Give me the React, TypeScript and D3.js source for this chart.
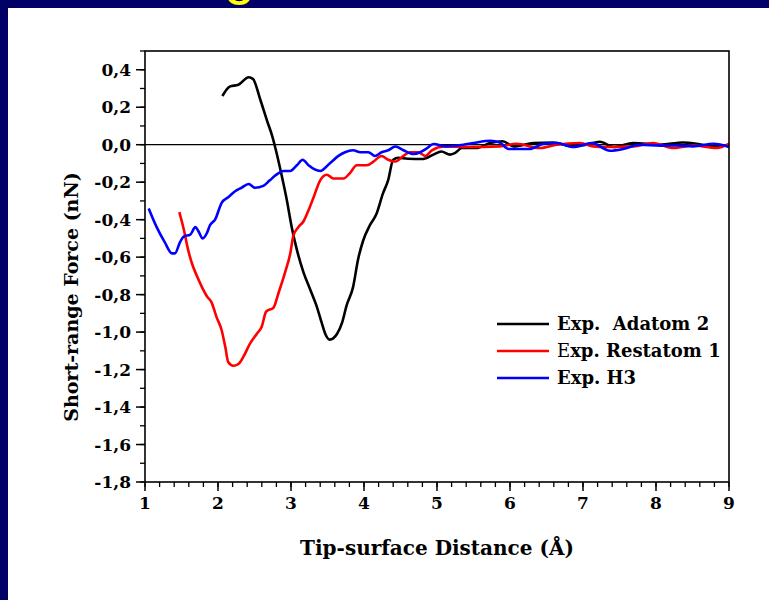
import React from 'react';
import * as d3 from 'd3';

// distances (Å) and short-range forces (nN)
const adatomX = [2.06, 2.16, 2.28, 2.42, 2.48, 2.58, 2.67, 2.74, 2.80, 2.87, 2.94, 3.01, 3.08, 3.17, 3.26, 3.35, 3.42, 3.47, 3.53, 3.63, 3.70, 3.76, 3.85, 3.92, 3.99, 4.08, 4.17, 4.26, 4.33, 4.40, 4.47, 4.60, 4.81, 4.95, 5.06, 5.18, 5.25, 5.34, 5.54, 5.73, 5.90, 6.05, 6.32, 6.59, 6.87, 7.05, 7.23, 7.42, 7.69, 8.05, 8.37, 8.56, 8.78, 9.0];
const adatomY = [0.26, 0.31, 0.32, 0.36, 0.35, 0.24, 0.13, 0.05, -0.04, -0.16, -0.29, -0.44, -0.56, -0.68, -0.77, -0.86, -0.95, -1.01, -1.04, -1.01, -0.95, -0.86, -0.76, -0.61, -0.51, -0.43, -0.37, -0.26, -0.19, -0.08, -0.07, -0.075, -0.076, -0.053, -0.036, -0.053, -0.044, -0.018, -0.018, 0.009, 0.018, -0.009, 0.009, 0.012, -0.009, 0.0, 0.016, -0.012, 0.009, 0.0, 0.012, 0.005, -0.009, 0.0];

const restatomX = [1.47, 1.53, 1.59, 1.64, 1.71, 1.78, 1.85, 1.91, 1.98, 2.05, 2.10, 2.14, 2.21, 2.28, 2.35, 2.44, 2.53, 2.60, 2.66, 2.76, 2.83, 2.92, 2.99, 3.03, 3.10, 3.17, 3.24, 3.31, 3.40, 3.49, 3.58, 3.72, 3.81, 3.90, 4.04, 4.13, 4.24, 4.33, 4.43, 4.54, 4.63, 4.74, 4.84, 4.93, 5.09, 5.41, 5.86, 6.09, 6.41, 6.64, 6.96, 7.14, 7.32, 7.69, 7.96, 8.24, 8.51, 8.83, 9.0];
const restatomY = [-0.36, -0.45, -0.56, -0.63, -0.70, -0.76, -0.81, -0.84, -0.92, -0.99, -1.08, -1.16, -1.18, -1.17, -1.13, -1.06, -1.01, -0.97, -0.89, -0.87, -0.79, -0.68, -0.58, -0.49, -0.44, -0.41, -0.35, -0.28, -0.19, -0.16, -0.18, -0.18, -0.15, -0.11, -0.11, -0.09, -0.06, -0.08, -0.09, -0.06, -0.04, -0.04, -0.06, -0.03, -0.01, -0.012, -0.009, 0.005, -0.018, 0.0, 0.009, -0.009, -0.012, -0.009, 0.009, -0.018, -0.004, -0.018, 0.004];

const h3X = [1.05, 1.16, 1.27, 1.37, 1.41, 1.48, 1.53, 1.62, 1.69, 1.73, 1.79, 1.85, 1.89, 1.96, 2.05, 2.14, 2.23, 2.32, 2.42, 2.51, 2.62, 2.71, 2.80, 2.90, 2.99, 3.08, 3.16, 3.24, 3.40, 3.53, 3.65, 3.74, 3.85, 3.95, 4.06, 4.15, 4.24, 4.33, 4.43, 4.54, 4.68, 4.77, 4.86, 4.95, 5.13, 5.36, 5.50, 5.73, 5.86, 5.98, 6.27, 6.46, 6.64, 6.87, 7.12, 7.37, 7.55, 7.78, 8.06, 8.28, 8.51, 8.79, 9.0];
const h3Y = [-0.34, -0.44, -0.52, -0.58, -0.58, -0.52, -0.49, -0.48, -0.44, -0.46, -0.50, -0.47, -0.43, -0.40, -0.31, -0.28, -0.25, -0.23, -0.21, -0.23, -0.22, -0.19, -0.16, -0.14, -0.14, -0.11, -0.08, -0.11, -0.14, -0.10, -0.06, -0.04, -0.03, -0.04, -0.04, -0.06, -0.04, -0.03, -0.01, -0.03, -0.05, -0.04, -0.02, 0.004, -0.009, 0.0, 0.009, 0.021, 0.012, -0.023, -0.023, 0.005, 0.009, -0.012, 0.009, -0.032, -0.023, 0.0, -0.005, -0.004, -0.009, 0.005, -0.012];

const seriesNames = ['Exp.  Adatom 2', 'Exp. Restatom 1', 'Exp. H3'];
const seriesColors = ['#000000', '#ff0000', '#0000ff'];

const xTicks = [1, 2, 3, 4, 5, 6, 7, 8, 9];
const yTicks = [0.4, 0.2, 0.0, -0.2, -0.4, -0.6, -0.8, -1.0, -1.2, -1.4, -1.6, -1.8];

const W = 769, H = 600;
const margin = { top: 51, right: 40, bottom: 118, left: 145 };
const font = '"DejaVu Serif", serif';

const App = () => {
  const x = d3.scaleLinear().domain([1, 9]).range([margin.left, W - margin.right]);
  const y = d3.scaleLinear().domain([-1.8, 0.5]).range([H - margin.bottom, margin.top]);

  const series = [
    d3.zip(adatomX, adatomY),
    d3.zip(restatomX, restatomY),
    d3.zip(h3X, h3Y),
  ];
  const line = d3.line<number[]>()
    .x(d => x(d[0]))
    .y(d => y(d[1]))
    .curve(d3.curveMonotoneX);

  const fmt = (v: number) => d3.format('.1f')(v).replace('.', ',').replace('−', '-');
  const xMinor = d3.range(1, 9.001, 0.2);
  const yMinor = d3.range(-1.8, 0.501, 0.1);
  const x0 = margin.left, x1 = W - margin.right;
  const y0 = H - margin.bottom, y1 = margin.top;

  return (
    <svg width={W} height={H} style={{ position: 'absolute', left: 0, top: 0 }} fontFamily={font}>
      <rect width={W} height={H} fill="#000066" />
      <rect x={8} y={8} width={W - 8} height={H - 8} fill="#ffffff" />
      {/* slide title, cut off by the top edge */}
      <text x={224} y={-7} fill="#ffff00" fontSize={56} fontFamily='"Liberation Sans", sans-serif'>g</text>
      <text x={603} y={-5} fill="#ffff00" fontSize={40} fontFamily='"Liberation Sans", sans-serif'>,</text>

      {/* zero line */}
      <line x1={x0} x2={x1} y1={y(0)} y2={y(0)} stroke="#000" strokeWidth={1.2} />

      {series.map((s, i) => (
        <path key={i} d={line(s) || ''} fill="none" stroke={seriesColors[i]} strokeWidth={2.6} strokeLinejoin="round" />
      ))}

      {/* frame */}
      <rect x={x0} y={y1} width={x1 - x0} height={y0 - y1} fill="none" stroke="#000" strokeWidth={1.6} />

      {xMinor.map((v, i) => (
        <line key={'xm' + i} x1={x(v)} x2={x(v)} y1={y0} y2={y0 + 5} stroke="#000" strokeWidth={1.3} />
      ))}
      {xTicks.map(v => (
        <g key={'x' + v}>
          <line x1={x(v)} x2={x(v)} y1={y0} y2={y0 + 9} stroke="#000" strokeWidth={1.5} />
          <text x={x(v)} y={509} textAnchor="middle" fontSize={17} fontWeight="bold">{v}</text>
        </g>
      ))}
      {yMinor.map((v, i) => (
        <line key={'ym' + i} x1={x0 - 5} x2={x0} y1={y(v)} y2={y(v)} stroke="#000" strokeWidth={1.3} />
      ))}
      {yTicks.map(v => (
        <g key={'y' + v}>
          <line x1={x0 - 9} x2={x0} y1={y(v)} y2={y(v)} stroke="#000" strokeWidth={1.5} />
          <text x={131} y={y(v)} dy="0.36em" textAnchor="end" fontSize={17} fontWeight="bold">{fmt(v)}</text>
        </g>
      ))}

      <text x={(x0 + x1) / 2} y={555} textAnchor="middle" fontSize={20} fontWeight="bold">Tip-surface Distance (Å)</text>
      <text transform="translate(78,297) rotate(-90)" textAnchor="middle" fontSize={19} fontWeight="bold">Short-range Force (nN)</text>

      {/* legend */}
      {seriesNames.map((name, i) => (
        <g key={name} transform={`translate(497,${324 + i * 27})`}>
          <line x1={0} x2={52} y1={0} y2={0} stroke={seriesColors[i]} strokeWidth={2.6} />
          <text x={60} y={0} dy="0.36em" fontSize={18} fontWeight="bold" style={{ whiteSpace: 'pre' }}>
            {i === 1 ? <><tspan fontWeight="normal">E</tspan>{name.slice(1)}</> : name}
          </text>
        </g>
      ))}
    </svg>
  );
};

export default App;
